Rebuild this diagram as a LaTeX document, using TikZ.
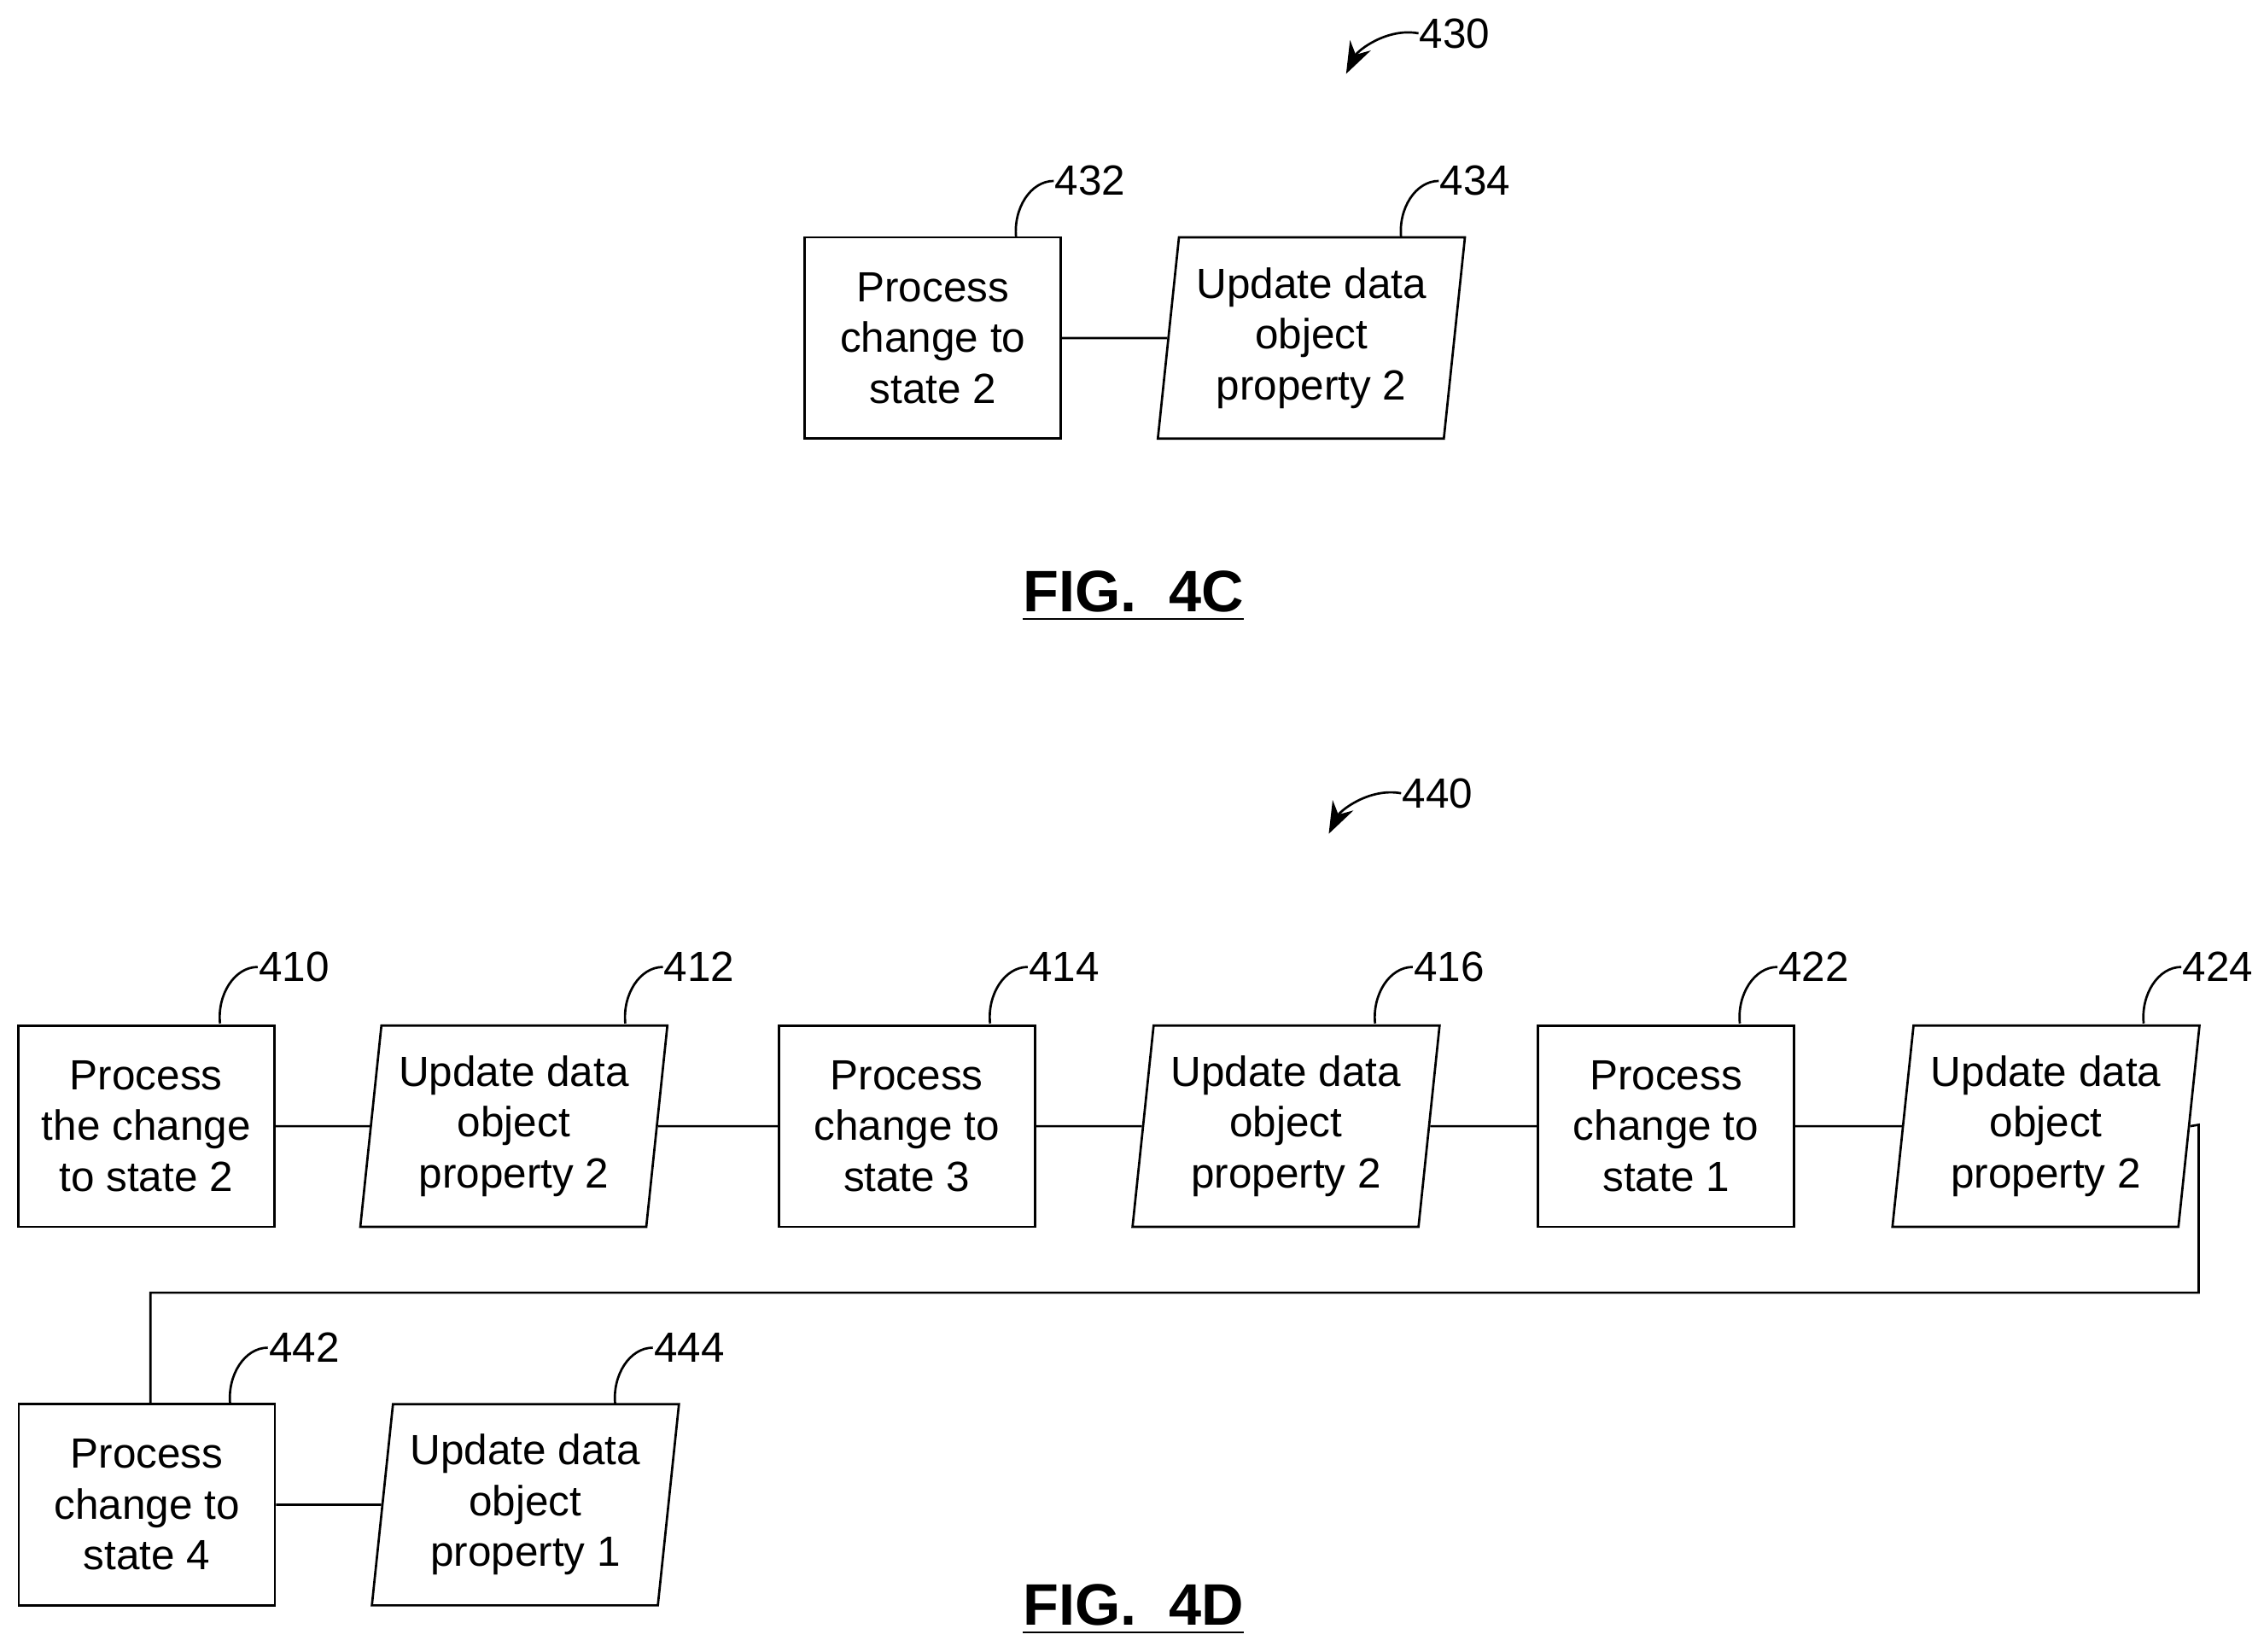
\documentclass[tikz,border=0pt]{standalone}
\usepackage{fontspec}
\setmainfont{Liberation Sans}
\usetikzlibrary{shapes.geometric,arrows.meta,calc}
\begin{document}
\begin{tikzpicture}[x=0.1mm,y=-0.1mm,line width=0.45pt,
  txt/.style={font=\fontsize{8.3}{10}\selectfont,align=center},
  rbox/.style={draw,txt,minimum width=17.7mm,minimum height=13.9mm,inner sep=0pt},
  pbox/.style={draw,txt,trapezium,trapezium left angle=82.6,trapezium right angle=97.4,trapezium stretches=true,minimum width=21.3mm,minimum height=13.9mm,inner sep=0pt},
  lab/.style={font=\fontsize{8.3}{10}\selectfont,anchor=west,inner sep=0pt},
  lead/.style={draw},
  fig/.style={font=\fontsize{11.5}{14}\selectfont\bfseries}]
\useasboundingbox (0,0) rectangle (1560,1141);
\newcommand{\leader}[1]{\draw (#1.west) .. controls +(-16,0) and +(-2,-20) .. ($(#1.west)+(-26,39)$);}
% FIG 4C
\node[rbox] (b432) at (644.5,233.5) {Process\\change to\\state 2};
\node[pbox] (b434) at (906,233.5) {Update data\\object\\property 2};
\draw (b432.east) -- (b434.west);
\node[lab] (l432) at (728,125) {432};
\node[lab] (l434) at (994,125) {434};
\leader{l432}\leader{l434}
\node[lab] (l430) at (980,23) {430};
\draw[-{Stealth[length=2.2mm,width=1.6mm]}] (l430.west) .. controls +(-22,-4) and +(8,-16) .. ($(l430.west)+(-50,28)$);
\node[fig] (f4c) at (783,412) {\underline{FIG.\ \ 4C}};
% FIG 4D
\node[rbox] (b410) at (101,778) {Process\\the change\\to state 2};
\node[pbox] (b412) at (355,778) {Update data\\object\\property 2};
\node[rbox] (b414) at (626.5,778) {Process\\change to\\state 3};
\node[pbox] (b416) at (888.5,778) {Update data\\object\\property 2};
\node[rbox] (b422) at (1151,778) {Process\\change to\\state 1};
\node[pbox] (b424) at (1413.5,778) {Update data\\object\\property 2};
\node[rbox] (b442) at (101.5,1039.5) {Process\\change to\\state 4};
\node[pbox] (b444) at (363,1039.5) {Update data\\object\\property 1};
\draw (b410.east) -- (b412.west);
\draw (b412.east) -- (b414.west);
\draw (b414.east) -- (b416.west);
\draw (b416.east) -- (b422.west);
\draw (b422.east) -- (b424.west);
\draw (b442.east) -- (b444.west);
\coordinate (c1) at (1519,777);
\coordinate (c2) at (1519,893);
\coordinate (c3) at (104,893);
\draw (b424.east) -- (c1) -- (c2) -- (c3) -- (c3 |- b442.north);
\foreach \n/\x/\y in {410/178/668,412/458/668,414/710/668,416/976/668,422/1228/668,424/1507/668,442/185/931,444/451/931}
  {\node[lab] (l\n) at (\x,\y) {\n}; \leader{l\n}}
\node[lab] (l440) at (968,548) {440};
\draw[-{Stealth[length=2.2mm,width=1.6mm]}] (l440.west) .. controls +(-22,-4) and +(8,-16) .. ($(l440.west)+(-50,28)$);
\node[fig] (f4d) at (783,1112) {\underline{FIG.\ \ 4D}};
\end{tikzpicture}
\end{document}
